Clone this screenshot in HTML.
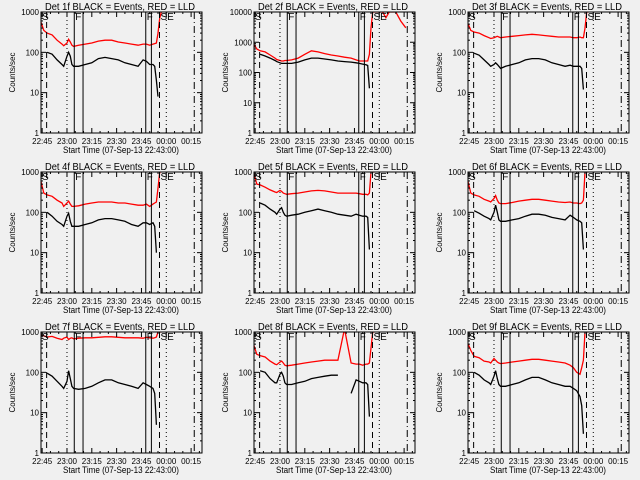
<!DOCTYPE html>
<html><head><meta charset="utf-8"><style>
html,body{margin:0;padding:0;background:#f0f0f0;}
svg{display:block;font-family:"Liberation Sans",sans-serif;}
</style></head><body>
<svg id="c" width="640" height="480" xmlns="http://www.w3.org/2000/svg">
<rect width="640" height="480" fill="#f0f0f0"/>
</svg>
<script>
const times = [1,3,5,8,11,14,15,17,18,19,20,21,24,28,32,36,40,44,48,52,56,60,63,65,67,69,70,71,72,73,74,76,79,81,83,87,90,93];
const detNames = ["1f","2f","3f","4f","5f","6f","7f","8f","9f"];
const yMaxDecades = [3,4,3,3,3,3,3,3,3];
const xTickLabels = ["22:45","23:00","23:15","23:30","23:45","00:00","00:15"];
const xTickTimes = [2,17,32,47,62,77,92];
const red1=[600,350,300,270,200,160,145,170,210,180,150,140,150,160,170,190,200,200,180,170,160,150,160,160,150,160,165,170,300,700,1000];
const blk1=[null,null,100,90,65,50,45,80,100,80,50,45,45,50,55,70,75,70,65,55,50,45,65,60,50,50,45,20,8];
const red2=[900,600,520,480,380,300,270,250,240,240,250,250,260,300,400,520,480,420,380,350,320,300,260,240,240,240,240,400,3000,10000,10000,10000,10000,6500,10000,10000,5000,3000];
const blk2=[null,null,400,350,300,250,230,210,200,200,200,200,200,220,260,300,300,280,260,240,230,220,210,200,190,180,170,30];
const red3=[550,350,320,300,260,230,220,230,240,250,240,230,240,250,260,270,280,270,260,250,240,240,240,230,230,240,230,230,400,1000,1000];
const blk3=[null,null,95,85,65,50,45,50,55,50,45,40,45,50,55,65,70,70,65,55,50,45,48,45,45,45,40,12];
const red4=[650,300,270,250,200,170,140,170,190,160,140,140,145,160,170,180,180,180,170,170,160,150,150,160,140,160,170,180,400,1000,1000];
const blk4=[null,null,100,80,60,50,45,80,95,60,45,45,45,50,55,65,70,70,65,60,50,45,55,55,50,55,45,10];
const red5=[1000,500,480,420,360,320,310,350,330,300,290,280,290,300,320,340,350,340,320,300,300,300,300,290,280,280,270,300,1000,1000,1000];
const blk5=[null,null,170,150,120,100,90,120,130,100,85,80,85,90,100,110,120,110,100,90,85,80,90,85,80,80,75,12];
const red6=[650,300,270,250,210,190,180,220,260,200,170,165,165,175,190,200,210,210,200,190,180,175,180,170,170,165,170,200,1000,1000,1000];
const blk6=[null,null,110,95,80,70,65,100,150,100,65,60,60,65,70,80,90,90,85,75,70,65,85,75,65,60,55,12];
const red7=[850,800,750,780,700,650,700,750,650,700,720,680,700,720,720,740,760,760,740,720,720,720,700,740,720,700,720,750,1000,1000,1000];
const blk7=[null,null,95,80,60,45,40,60,110,70,45,40,38,40,45,55,65,65,55,50,45,40,55,50,45,40,30,5];
const red8=[500,280,260,240,190,160,155,180,190,170,150,145,150,160,170,180,190,200,200,200,10000,170,160,160,150,160,160,170,400,1000,1000];
const blk8=[null,null,110,100,70,55,55,90,100,80,55,50,50,55,60,70,75,80,85,85,null,30,65,60,55,55,50,8];
const red9=[550,350,250,230,190,180,170,220,200,180,170,165,170,180,190,200,210,210,200,190,180,170,150,130,100,90,130,200,1000,1000,1000];
const blk9=[null,null,100,85,65,55,50,80,110,70,50,45,45,50,55,65,75,75,65,55,50,45,45,40,35,25,15,3];
const redSeries=[red1,red2,red3,red4,red5,red6,red7,red8,red9];
const blackSeries=[blk1,blk2,blk3,blk4,blk5,blk6,blk7,blk8,blk9];

const NS="http://www.w3.org/2000/svg";
const svg=document.getElementById('c');
const colX=[0,213,427], rowY=[0,160,320];
const L=41,R=202,T=12,B=133;
function mk(tag,attrs,parent){const e=document.createElementNS(NS,tag);for(const k in attrs)e.setAttribute(k,attrs[k]);(parent||svg).appendChild(e);return e;}

for(let p=0;p<9;p++){
  const ox=colX[p%3], oy=rowY[Math.floor(p/3)];
  const g=mk('g',{transform:`translate(${ox},${oy})`});
  
  
  const dec=yMaxDecades[p];
  const xS=t=>L+(t-1.3)*1.655;
  const yS=v=>B-(Math.log10(v)/dec)*(B-T);
  const cp=mk('clipPath',{id:'cp'+p},g); mk('rect',{x:L,y:T,width:R-L,height:B-T},cp);
  const ti=mk('text',{x:45,y:10,'font-size':'10',textLength:'150',lengthAdjust:'spacingAndGlyphs'},g);
  ti.textContent=`Det ${detNames[p]} BLACK = Events, RED = LLD`;
  
  
  const drawLine=(arr,col,name)=>{
    let d='',pen=false;
    for(let i=0;i<times.length;i++){
      const v=arr[i];
      if(v==null){pen=false;continue;}
      const x=xS(times[i]).toFixed(1),y=yS(Math.min(v,Math.pow(10,dec)*1.2)).toFixed(1);
      d+=(pen?'L':'M')+x+' '+y; pen=true;
    }
    const pa=mk('path',{d:d,fill:'none',stroke:col,'stroke-width':'1.3','clip-path':`url(#cp${p})`},g);
    
    
  };
  drawLine(redSeries[p],'#ff0000','lld-red-line');
  drawLine(blackSeries[p],'#000000','events-black-line');
  const vl=[[4.7,'6,4'],[17,'1,3'],[21.4,''],[26.7,''],[64.6,''],[68.0,''],[72.9,'6,4'],[77,'1,3'],[93.9,'7,3,1,3']];
  vl.forEach(([t,da])=>{const x=xS(t);const l=mk('line',{x1:x,x2:x,y1:T,y2:B,stroke:'#000','stroke-width':'1','stroke-dasharray':da},g);
    
    });
  [['S',L+1],['F',xS(21.4)+1],['F',xS(64.6)+1],['SE',xS(72.9)+1]].forEach(([s,x])=>{
    const tx=mk('text',{x:x,y:T+8,'font-size':'10'},g);tx.textContent=s;
    
    });
  const bx=mk('rect',{x:L,y:T,width:R-L,height:B-T,fill:'none',stroke:'#000','stroke-width':'1'},g);
  
  
  for(let k=0;k<=dec;k++){
    const y=yS(Math.pow(10,k));
    mk('line',{x1:L,x2:L+5,y1:y,y2:y,stroke:'#000'},g);mk('line',{x1:R,x2:R-5,y1:y,y2:y,stroke:'#000'},g);
    const lb=mk('text',{x:L-2,y:y+3,'text-anchor':'end','font-size':'8'},g);lb.textContent=String(Math.pow(10,k));
    
    
    if(k<dec)for(let m=2;m<10;m++){const ym=yS(m*Math.pow(10,k));
      mk('line',{x1:L,x2:L+2,y1:ym,y2:ym,stroke:'#000'},g);mk('line',{x1:R,x2:R-2,y1:ym,y2:ym,stroke:'#000'},g);}
  }
  xTickTimes.forEach((t,i)=>{const x=xS(t);
    mk('line',{x1:x,x2:x,y1:B,y2:B-5,stroke:'#000'},g);mk('line',{x1:x,x2:x,y1:T,y2:T+5,stroke:'#000'},g);
    const lb=mk('text',{x:x,y:B+11,'text-anchor':'middle','font-size':'8'},g);lb.textContent=xTickLabels[i];
    
    
    for(let m=5;m<15;m+=5){const xm=xS(t+m);if(xm<R){mk('line',{x1:xm,x2:xm,y1:B,y2:B-2,stroke:'#000'},g);mk('line',{x1:xm,x2:xm,y1:T,y2:T+2,stroke:'#000'},g);}}
  });
  const xt=mk('text',{x:63,y:B+20,'font-size':'9',textLength:'116',lengthAdjust:'spacingAndGlyphs'},g);
  xt.textContent='Start Time (07-Sep-13 22:43:00)';
  
  
  const yt=mk('text',{x:0,y:0,'text-anchor':'middle','font-size':'8',transform:`translate(15,${(T+B)/2}) rotate(-90)`},g);
  yt.textContent='Counts/sec';
  
  
}
</script>
</body></html>
